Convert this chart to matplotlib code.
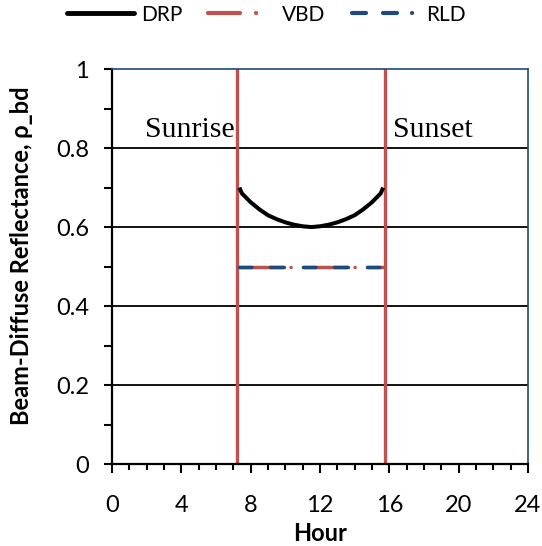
import matplotlib
matplotlib.use("Agg")
import matplotlib.pyplot as plt
from matplotlib.lines import Line2D
from matplotlib.ticker import MultipleLocator

plt.rcParams['font.family'] = ['Lato', 'DejaVu Sans']
plt.rcParams['lines.scale_dashes'] = False

# hours of sunrise / sunset
sunrise = 7.2
sunset = 15.75

# DRP beam-diffuse reflectance through the day
drp_hour = [7.35, 7.5, 8.0, 8.5, 9.0, 9.5, 10.0, 10.5, 11.0, 11.5,
            12.0, 12.5, 13.0, 13.5, 14.0, 14.5, 15.0, 15.5, 15.65]
drp_rho = [0.700, 0.685, 0.663, 0.645, 0.630, 0.620, 0.612, 0.606, 0.602, 0.600,
           0.602, 0.606, 0.612, 0.620, 0.630, 0.645, 0.663, 0.685, 0.700]

# VBD and RLD are constant between sunrise and sunset
flat_hour = [7.35, 15.65]
vbd_rho = [0.5, 0.5]
rld_rho = [0.5, 0.5]

red = '#C0504D'
navy = '#1F497D'
px = 0.72  # points per pixel at dpi 100

fig = plt.figure(figsize=(5.42, 5.46), dpi=100)
ax = fig.add_axes([0.2066, 0.150, 0.7675, 0.7235])

for y in [0.2, 0.4, 0.6, 0.8]:
    ax.axhline(y, color='black', lw=1.3, zorder=1)

ax.plot([sunrise, sunrise], [0, 1], color=red, lw=2.4, zorder=2)
ax.plot([sunset, sunset], [0, 1], color=red, lw=2.4, zorder=2)

ax.plot(drp_hour, drp_rho, color='black', lw=2.9, solid_capstyle='butt', zorder=4)
ax.plot(flat_hour, vbd_rho, color=red, lw=2.5, dash_capstyle='round',
        dashes=[45 * px, 6.5 * px, 0.1, 12.4 * px], zorder=3)
ax.plot(flat_hour, rld_rho, color=navy, lw=2.5, dash_capstyle='round',
        dashes=[12.5 * px, 18.5 * px, 13.5 * px, 19.5 * px], zorder=4)

ax.text(sunrise - 0.15, 0.828, 'Sunrise', family='Liberation Serif', fontsize=21.5,
        ha='right', va='baseline')
ax.text(sunset + 0.45, 0.828, 'Sunset', family='Liberation Serif', fontsize=21.5,
        ha='left', va='baseline')

ax.set_xlim(0, 24)
ax.set_ylim(0, 1)
ax.xaxis.set_major_locator(MultipleLocator(4))
ax.xaxis.set_minor_locator(MultipleLocator(1))
ax.yaxis.set_major_locator(MultipleLocator(0.2))
ax.yaxis.set_minor_locator(MultipleLocator(0.1))
ax.yaxis.set_major_formatter(plt.FuncFormatter(lambda v, p: '%g' % round(v, 1)))

ax.tick_params(axis='x', which='major', direction='out', length=6.5, width=1.5,
               labelsize=17, pad=16)
ax.tick_params(axis='x', which='minor', direction='out', length=4.5, width=1.5)
ax.tick_params(axis='y', which='both', direction='out', length=5.5, width=1.5,
               labelsize=17, pad=11)

for side in ['left', 'bottom']:
    ax.spines[side].set_color('black')
    ax.spines[side].set_linewidth(1.6)
for side in ['top', 'right']:
    ax.spines[side].set_color(navy)
    ax.spines[side].set_linewidth(1.2)

ax.set_xlabel('Hour', fontsize=17, fontweight='bold', labelpad=4)
ax.set_ylabel('Beam-Diffuse Reflectance, ρ_bd', fontsize=17, fontweight='bold')
ax.yaxis.set_label_coords(-0.19, 0.527)

handles = [
    Line2D([], [], color='black', lw=3.5, solid_capstyle='round'),
    Line2D([], [], color=red, lw=3.0, dash_capstyle='round',
           dashes=[32 * px, 16 * px, 0.1, 30 * px]),
    Line2D([], [], color=navy, lw=3.0, dash_capstyle='round',
           dashes=[14 * px, 17 * px, 14 * px, 15 * px, 0.1, 30 * px]),
]
fig.legend(handles, ['DRP', 'VBD', 'RLD'], loc='center', bbox_to_anchor=(0.491, 0.973),
           ncol=3, frameon=False, fontsize=15, handlelength=3.2, handletextpad=0.35,
           columnspacing=1.25, borderpad=0)

fig.savefig('out.png', dpi=100)
